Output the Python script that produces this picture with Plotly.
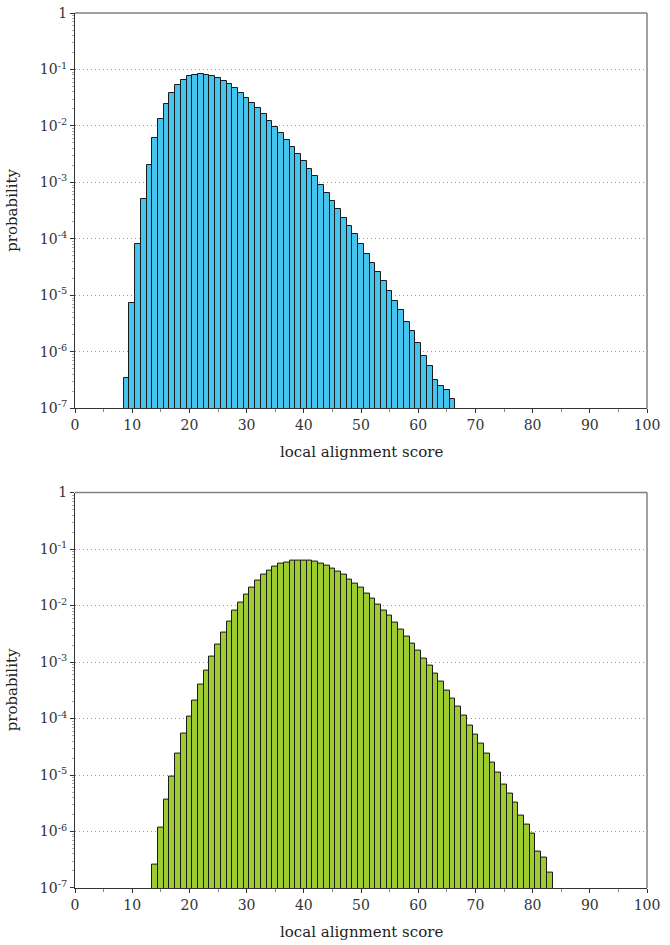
import plotly.graph_objects as go

# ---- data ----
top_scores = list(range(9, 67))
top_prob = [3.40e-7, 7.40e-6, 8.18e-5, 5.00e-4, 2.08e-3, 6.08e-3, 1.34e-2, 2.50e-2,
            3.76e-2, 5.27e-2, 6.55e-2, 7.60e-2, 8.02e-2, 8.26e-2, 8.02e-2, 7.71e-2,
            7.02e-2, 6.14e-2, 5.43e-2, 4.61e-2, 3.76e-2, 3.07e-2, 2.54e-2, 2.04e-2,
            1.64e-2, 1.25e-2, 9.64e-3, 7.46e-3, 5.68e-3, 4.27e-3, 3.17e-3, 2.41e-3,
            1.72e-3, 1.28e-3, 9.08e-4, 6.55e-4, 4.67e-4, 3.37e-4, 2.36e-4, 1.71e-4,
            1.20e-4, 8.09e-5, 5.45e-5, 3.68e-5, 2.58e-5, 1.77e-5, 1.22e-5, 7.83e-6,
            5.56e-6, 3.37e-6, 2.36e-6, 1.43e-6, 8.32e-7, 5.68e-7, 3.17e-7, 2.51e-7,
            2.11e-7, 1.44e-7]

bottom_scores = list(range(14, 84))
bottom_prob = [2.62e-7, 1.19e-6, 3.72e-6, 9.48e-6, 2.42e-5, 5.32e-5, 1.10e-4, 2.12e-4,
               3.96e-4, 7.13e-4, 1.24e-3, 2.08e-3, 3.30e-3, 5.25e-3, 8.00e-3, 1.14e-2,
               1.58e-2, 2.10e-2, 2.75e-2, 3.47e-2, 4.20e-2, 4.80e-2, 5.43e-2, 5.82e-2,
               6.21e-2, 6.38e-2, 6.38e-2, 6.21e-2, 5.96e-2, 5.50e-2, 5.15e-2, 4.48e-2,
               3.92e-2, 3.47e-2, 2.91e-2, 2.43e-2, 2.07e-2, 1.64e-2, 1.32e-2, 1.06e-2,
               8.22e-3, 6.52e-3, 5.05e-3, 3.79e-3, 2.88e-3, 2.14e-3, 1.61e-3, 1.16e-3,
               8.61e-4, 6.31e-4, 4.48e-4, 3.16e-4, 2.28e-4, 1.62e-4, 1.12e-4, 7.59e-5,
               5.27e-5, 3.58e-5, 2.36e-5, 1.65e-5, 1.12e-5, 6.84e-6, 4.61e-6, 3.24e-6,
               1.94e-6, 1.34e-6, 9.29e-7, 4.47e-7, 3.49e-7, 1.84e-7]

y_tickvals = [1e-7, 1e-6, 1e-5, 1e-4, 1e-3, 1e-2, 1e-1, 1]
y_ticktext = ["10<sup>-7</sup>", "10<sup>-6</sup>", "10<sup>-5</sup>", "10<sup>-4</sup>",
              "10<sup>-3</sup>", "10<sup>-2</sup>", "10<sup>-1</sup>", "1"]
x_tickvals = list(range(0, 101, 10))
x_label = "local alignment score"
y_label = "probability"

FONT = "DejaVu Serif"
AXIS_COLOR = "#333333"
FRAME_COLOR = "#808080"

fig = go.Figure()
fig.add_trace(go.Bar(x=top_scores, y=top_prob, width=1, xaxis="x", yaxis="y",
                     marker=dict(color="#45C4EE", line=dict(color="#1a1a1a", width=1))))
fig.add_trace(go.Bar(x=bottom_scores, y=bottom_prob, width=1, xaxis="x2", yaxis="y2",
                     marker=dict(color="#9DCB30", line=dict(color="#1a1a1a", width=1))))

minor_y = []
for e in range(-7, 0):
    for m in range(2, 10):
        minor_y.append(m * 10 ** e)

def xaxis(anchor):
    return dict(range=[0, 100], anchor=anchor, tickvals=x_tickvals, automargin=False,
                ticks="outside", ticklen=4, tickcolor=AXIS_COLOR,
                showline=True, linecolor=AXIS_COLOR, linewidth=1, showgrid=False,
                zeroline=False, tickfont=dict(family=FONT, size=14, color="#333"),
                minor=dict(dtick=5, ticks="outside", ticklen=3, tickcolor="#888"))

def yaxis(anchor, domain):
    return dict(type="log", range=[-7, 0], domain=domain, anchor=anchor, automargin=False,
                tickvals=y_tickvals, ticktext=y_ticktext,
                ticks="outside", ticklen=4, tickcolor=AXIS_COLOR,
                showline=True, linecolor=AXIS_COLOR, linewidth=1,
                showgrid=True, gridcolor="#999999", griddash="1px,3px", gridwidth=1,
                zeroline=False, tickfont=dict(family=FONT, size=14, color="#333"),
                minor=dict(tickvals=minor_y, ticks="outside", ticklen=2, tickcolor="#aaa",
                           showgrid=False))

top_dom = [0.5481, 1.0]
bot_dom = [0.0, 0.4519]

fig.update_layout(
    width=670, height=945,
    margin=dict(l=75, r=23, t=13, b=57, autoexpand=False),
    paper_bgcolor="white", plot_bgcolor="white",
    showlegend=False, bargap=0,
    xaxis=xaxis("y"), yaxis=yaxis("x", top_dom),
    xaxis2=xaxis("y2"), yaxis2=yaxis("x2", bot_dom),
)

# top/right frame lines (lighter)
for yr, xr in (("y domain", "x domain"), ("y2 domain", "x2 domain")):
    fig.add_shape(type="line", xref=xr, yref=yr, x0=0, x1=1, y0=1, y1=1,
                  line=dict(color=FRAME_COLOR, width=1.5))
    fig.add_shape(type="line", xref=xr, yref=yr, x0=1, x1=1, y0=0, y1=1,
                  line=dict(color=FRAME_COLOR, width=1.5))

# axis titles
title_font = dict(family=FONT, size=15, color="#222")
for dom in (top_dom, bot_dom):
    fig.add_annotation(text=y_label, xref="paper", yref="paper", x=-0.11,
                       y=(dom[0] + dom[1]) / 2, textangle=-90, showarrow=False,
                       xanchor="center", yanchor="middle", font=title_font)
    fig.add_annotation(text=x_label, xref="paper", yref="paper", x=0.5,
                       y=dom[0], yshift=-44, showarrow=False,
                       xanchor="center", yanchor="middle", font=title_font)

fig.write_html("out.html", config={"displayModeBar": False},
               post_script="document.body.style.margin='0';document.body.style.overflow='hidden';")
